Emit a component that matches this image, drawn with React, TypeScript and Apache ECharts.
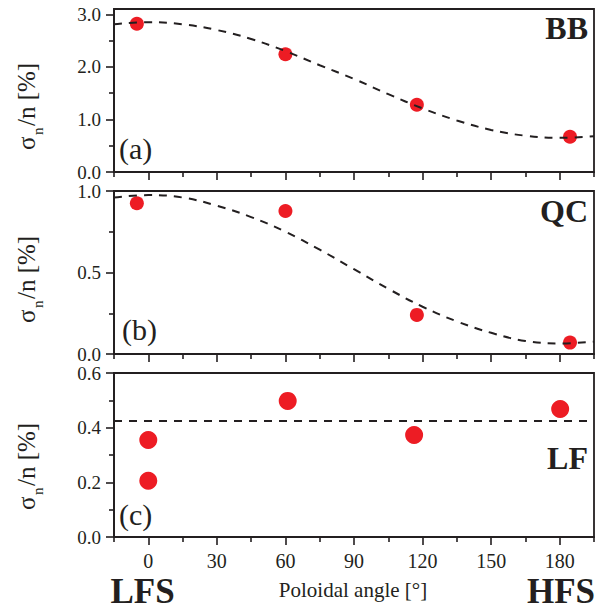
import React, { useEffect, useRef } from "react";
import * as echarts from "echarts";

// ---- data ----
const angleTicks = [0, 30, 60, 90, 120, 150, 180];
const angleMinorTicks = [-15, 15, 45, 75, 105, 135, 165, 195];
const fitAngles = [-15, 0, 15, 30, 45, 60, 75, 90, 105, 120, 135, 150, 165, 180, 195];

const bbAngles = [-5, 60, 117.5, 184.5];
const bbValues = [2.82, 2.24, 1.28, 0.67];
const bbFit = [2.81, 2.85, 2.81, 2.7, 2.53, 2.3, 2.03, 1.77, 1.48, 1.21, 0.98, 0.8, 0.69, 0.65, 0.68];

const qcAngles = [-5, 60, 117.5, 184.5];
const qcValues = [0.925, 0.877, 0.24, 0.07];
const qcFit = [0.96, 0.975, 0.96, 0.91, 0.84, 0.75, 0.64, 0.52, 0.4, 0.29, 0.2, 0.13, 0.08, 0.065, 0.075];

const lfAngles = [0, 0, 61, 116.3, 180.2];
const lfValues = [0.355, 0.206, 0.498, 0.373, 0.468];
const lfFitAngles = [-15, 195];
const lfFitValues = [0.424, 0.424];

const bbYTicks = [0, 1, 2, 3];
const bbYMinor = [0.5, 1.5, 2.5];
const qcYTicks = [0, 0.5, 1];
const qcYMinor = [0.25, 0.75];
const lfYTicks = [0, 0.2, 0.4, 0.6];
const lfYMinor = [0.1, 0.3, 0.5];

const panelNames = ["BB", "QC", "LF"];
const panelLetters = ["(a)", "(b)", "(c)"];

const INK = "#231f20";
const RED = "#ed1c24";
const SERIF = "Liberation Serif";

export default function App() {
  const ref = useRef<HTMLDivElement>(null);

  useEffect(() => {
    if (!ref.current) return;
    const chart = echarts.init(ref.current, undefined, { renderer: "svg" });

    const panels = [
      { top: 9, height: 163, yMax: 3.1, ticks: bbYTicks, minor: bbYMinor, ax: bbAngles, vals: bbValues, fitX: fitAngles, fitY: bbFit, size: 14, smooth: true },
      { top: 191, height: 163, yMax: 1.0, ticks: qcYTicks, minor: qcYMinor, ax: qcAngles, vals: qcValues, fitX: fitAngles, fitY: qcFit, size: 14, smooth: true },
      { top: 373, height: 164, yMax: 0.6, ticks: lfYTicks, minor: lfYMinor, ax: lfAngles, vals: lfValues, fitX: lfFitAngles, fitY: lfFitValues, size: 18, smooth: false },
    ];

    const grid: any[] = [];
    const xAxis: any[] = [];
    const yAxis: any[] = [];
    const series: any[] = [];

    panels.forEach((p, i) => {
      grid.push({
        left: 114,
        width: 480,
        top: p.top,
        height: p.height,
        show: true,
        borderColor: INK,
        borderWidth: 1.8,
        backgroundColor: "transparent",
      });
      const isBottom = i === panels.length - 1;
      xAxis.push({
        type: "value",
        gridIndex: i,
        position: "bottom",
        min: -15,
        max: 195,
        axisLine: { show: true, onZero: false, lineStyle: { color: INK, width: 1.8 } },
        axisTick: { show: true, customValues: angleTicks, length: 8, inside: false, lineStyle: { color: INK, width: 1.6 } },
        axisLabel: {
          show: isBottom,
          customValues: angleTicks,
          fontSize: 20,
          fontFamily: SERIF,
          color: INK,
          margin: 14,
        },
        splitLine: { show: false },
      });
      xAxis.push({
        type: "value",
        gridIndex: i,
        position: "bottom",
        min: -15,
        max: 195,
        axisLine: { show: false, onZero: false },
        axisTick: { show: true, customValues: angleMinorTicks, length: 5, inside: false, lineStyle: { color: INK, width: 1.6 } },
        axisLabel: { show: false },
        splitLine: { show: false },
      });
      yAxis.push({
        type: "value",
        gridIndex: i,
        position: "left",
        min: 0,
        max: p.yMax,
        axisLine: { show: true, onZero: false, lineStyle: { color: INK, width: 1.8 } },
        axisTick: { show: true, customValues: p.ticks, length: 8, inside: false, lineStyle: { color: INK, width: 1.6 } },
        axisLabel: {
          show: true,
          customValues: p.ticks,
          formatter: (v: number) => v.toFixed(1),
          fontSize: 19,
          fontFamily: SERIF,
          color: INK,
          margin: 13,
        },
        splitLine: { show: false },
      });
      yAxis.push({
        type: "value",
        gridIndex: i,
        position: "left",
        min: 0,
        max: p.yMax,
        axisLine: { show: false, onZero: false },
        axisTick: { show: true, customValues: p.minor, length: 5, inside: false, lineStyle: { color: INK, width: 1.6 } },
        axisLabel: { show: false },
        splitLine: { show: false },
      });
      series.push({
        type: "scatter",
        xAxisIndex: i * 2,
        yAxisIndex: i * 2,
        data: p.ax.map((a, k) => [a, p.vals[k]]),
        symbol: "circle",
        symbolSize: p.size,
        itemStyle: { color: RED, opacity: 1 },
        z: 2,
      });
      series.push({
        type: "line",
        xAxisIndex: i * 2,
        yAxisIndex: i * 2,
        data: p.fitX.map((a, k) => [a, p.fitY[k]]),
        showSymbol: false,
        smooth: p.smooth ? 0.4 : false,
        lineStyle: { color: INK, width: 2, type: [8, 7] },
        z: 3,
      });
    });

    const yLabelStarts = [150, 323, 510];
    const nameY = [28, 211, 458];
    const letterY = [148, 329, 514];
    const letterX = [119, 122, 119];

    const txt = (text: string, size: number, extra: any = {}) => ({
      text,
      fontSize: size,
      fontFamily: SERIF,
      fill: INK,
      textAlign: "left",
      textVerticalAlign: "middle",
      ...extra,
    });

    const graphic: any[] = [];
    yLabelStarts.forEach((y0) => {
      graphic.push({
        type: "group",
        x: 26,
        y: y0,
        rotation: Math.PI / 2,
        children: [
          { type: "text", x: 0, y: 0, style: txt("σ", 25) },
          { type: "text", x: 15, y: 12, style: txt("n", 15) },
          { type: "text", x: 24, y: 0, style: txt("/n [%]", 25) },
        ],
      });
    });
    panelNames.forEach((n, i) => {
      graphic.push({
        type: "text",
        x: 588,
        y: nameY[i],
        style: txt(n, 32, { fontWeight: "bold", textAlign: "right" }),
      });
    });
    panelLetters.forEach((n, i) => {
      graphic.push({
        type: "text",
        x: letterX[i],
        y: letterY[i],
        style: txt(n, 30),
      });
    });
    graphic.push({
      type: "text",
      x: 353,
      y: 590,
      style: txt("Poloidal angle [°]", 21, { textAlign: "center" }),
    });
    graphic.push({
      type: "text",
      x: 142.5,
      y: 591,
      style: txt("LFS", 35, { fontWeight: "bold", textAlign: "center" }),
    });
    graphic.push({
      type: "text",
      x: 595,
      y: 591,
      style: txt("HFS", 35, { fontWeight: "bold", textAlign: "right" }),
    });

    chart.setOption({
      animation: false,
      backgroundColor: "#ffffff",
      grid,
      xAxis,
      yAxis,
      series,
      graphic,
    });

    return () => chart.dispose();
  }, []);

  return <div ref={ref} style={{ position: "fixed", left: 0, top: 0, width: 596, height: 609 }} />;
}
